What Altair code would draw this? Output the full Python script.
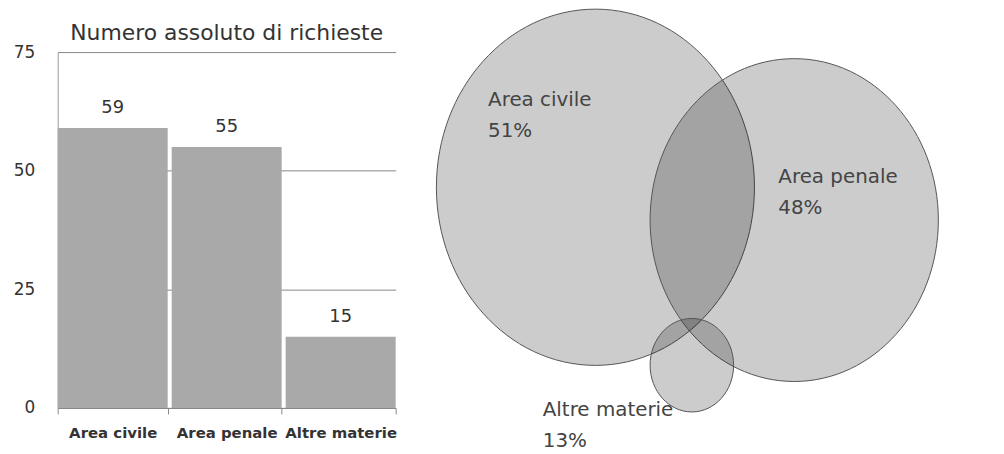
import altair as alt
import pandas as pd

FONT = "DejaVu Sans"

# Bar chart data
categories = ["Area civile", "Area penale", "Altre materie"]
counts = [59, 55, 15]
y_ticks = [0, 25, 50, 75]
bar_title = "Numero assoluto di richieste"

# Venn data (labels, shares, and layout of the circles in panel units)
venn_labels = ["Area civile", "Area penale", "Altre materie"]
venn_pct = ["51%", "48%", "13%"]
venn_cx = [178, 378, 275]
venn_cy = [136, 169, 315]
venn_d = [320, 290, 84]
label_x = [70, 362, 125]
label_y = [48, 126, 360]

bar_df = pd.DataFrame({"cat": categories, "n": counts})

x_enc = alt.X(
    "cat:N", sort=categories,
    scale=alt.Scale(paddingInner=0.035, paddingOuter=0),
    axis=alt.Axis(title=None, labelAngle=0, labelFontSize=15, labelFontWeight="bold",
                  labelColor="#333", labelFont=FONT, labelPadding=12, tickBand="extent",
                  tickSize=6, tickColor="#888", domainColor="#888", labelOverlap=False),
)
y_enc = alt.Y(
    "n:Q", scale=alt.Scale(domain=[0, 75], nice=False),
    axis=alt.Axis(values=y_ticks, title=None, ticks=False, labelPadding=23, labelFontSize=17,
                  labelFont=FONT, labelColor="#333", grid=True, gridColor="#888",
                  domainColor="#999", minExtent=45),
)

bars = alt.Chart(bar_df).mark_bar(color="#a9a9a9").encode(x=x_enc, y=y_enc)
bar_text = alt.Chart(bar_df).mark_text(dy=-20, fontSize=18, color="#333", font=FONT).encode(
    x=alt.X("cat:N", sort=categories), y="n:Q", text="n:Q")

left = (bars + bar_text).properties(
    width=340, height=358,
    title=alt.Title(bar_title, fontSize=22, font=FONT, fontWeight="normal", color="#333",
                    anchor="middle", offset=-2),
)

# Venn panel
venn_df = pd.DataFrame({"label": venn_labels, "pct": venn_pct, "cx": venn_cx, "cy": venn_cy,
                        "d": venn_d, "lx": label_x, "ly": label_y})
xs = alt.Scale(domain=[0, 576], nice=False)
ys = alt.Scale(domain=[0, 358], reverse=True, nice=False)

k = 1.12
c = 0.5523
ELLIPSE = (f"M 0 {-k} C {c} {-k} 1 {-c*k} 1 0 C 1 {c*k} {c} {k} 0 {k} "
           f"C {-c} {k} -1 {c*k} -1 0 C -1 {-c*k} {-c} {-k} 0 {-k} Z")

circles = alt.Chart(venn_df).transform_calculate(sz="datum.d * datum.d").mark_point(
    shape=ELLIPSE, filled=True, color="#000", fillOpacity=0.2, stroke="#555",
    strokeWidth=1, strokeOpacity=1, opacity=1,
).encode(
    x=alt.X("cx:Q", scale=xs, axis=None),
    y=alt.Y("cy:Q", scale=ys, axis=None),
    size=alt.Size("sz:Q", scale=None, legend=None),
)
names = alt.Chart(venn_df).mark_text(align="left", baseline="middle", fontSize=20, font=FONT,
                                     color="#444").encode(
    x=alt.X("lx:Q", scale=xs, axis=None), y=alt.Y("ly:Q", scale=ys, axis=None), text="label:N")
pcts = alt.Chart(venn_df).mark_text(align="left", baseline="middle", fontSize=20, font=FONT,
                                    color="#444", dy=31).encode(
    x=alt.X("lx:Q", scale=xs, axis=None), y=alt.Y("ly:Q", scale=ys, axis=None), text="pct:N")

right = (circles + names + pcts).properties(width=576, height=358)

chart = alt.hconcat(left, right, spacing=22).properties(
    background="white",
    padding={"left": 5, "top": -3, "right": 5, "bottom": 0},
).configure_view(stroke=None)

chart.save("out.html", embed_options={"renderer": "svg", "actions": False})
